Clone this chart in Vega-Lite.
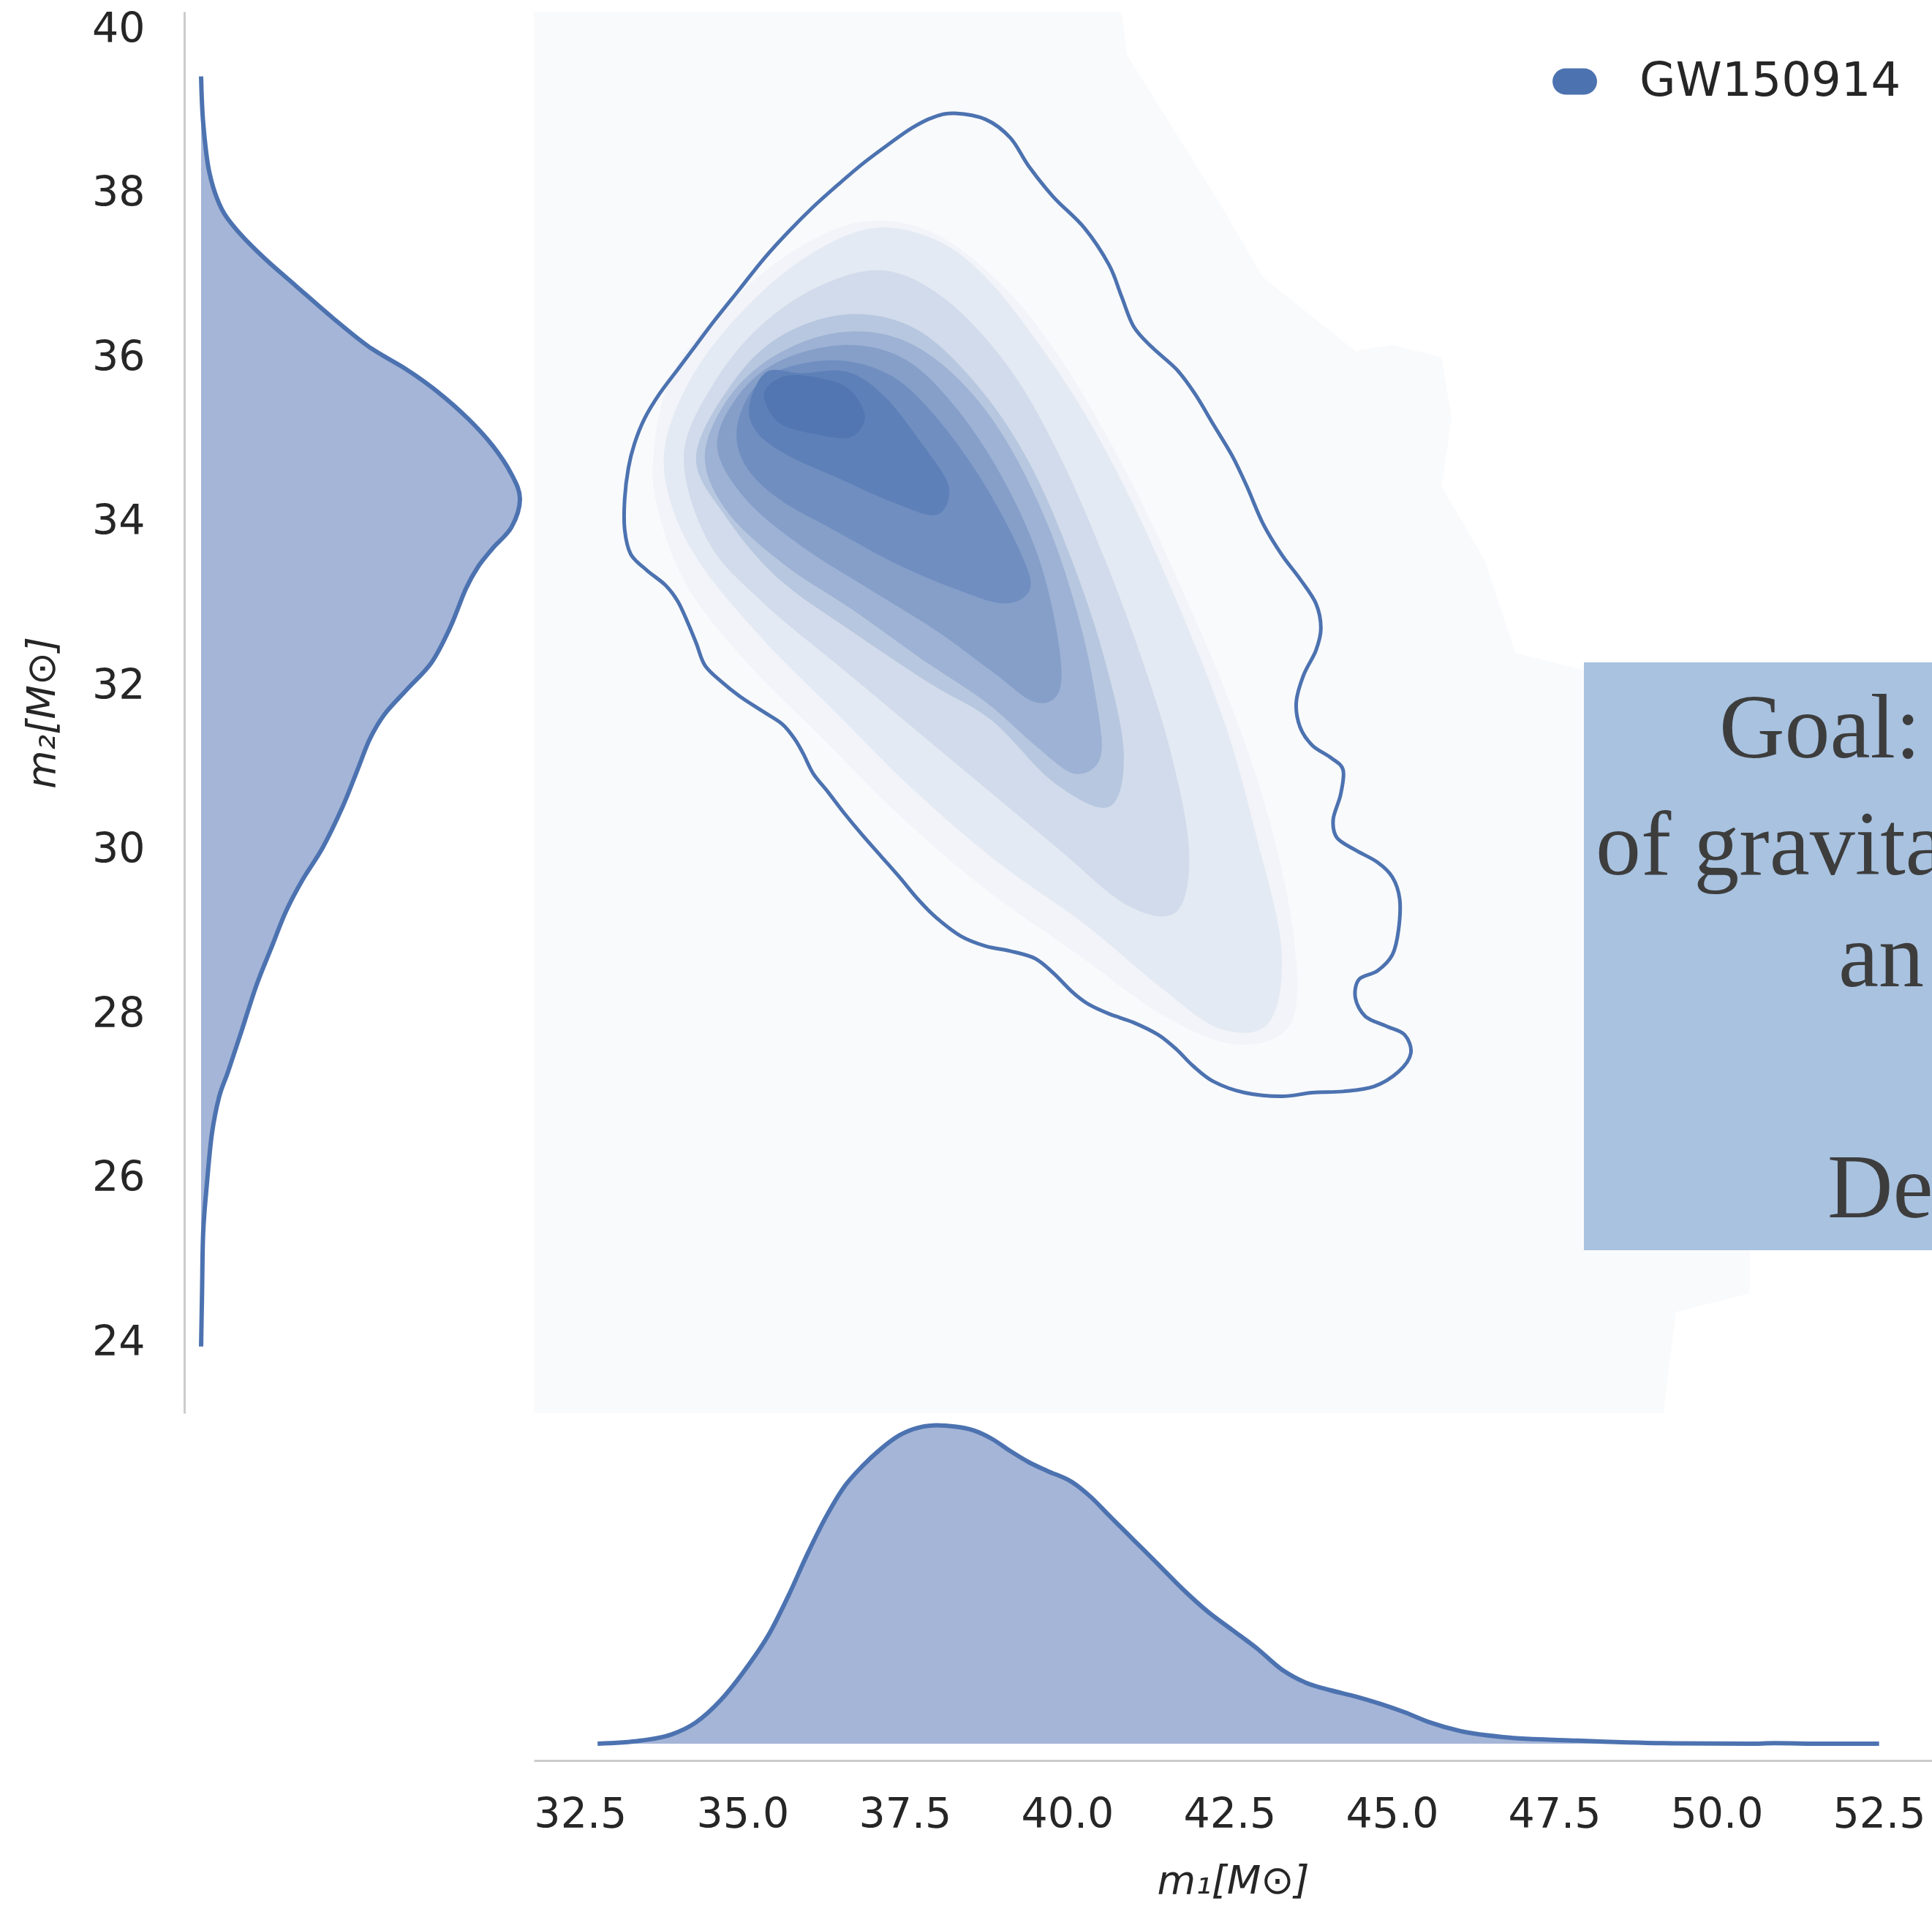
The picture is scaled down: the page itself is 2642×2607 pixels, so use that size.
{
  "$schema": "https://vega.github.io/schema/vega-lite/v6.json",
  "width": 2642,
  "height": 2607,
  "autosize": {"type": "none"},
  "padding": 0,
  "background": "white",
  "config": {"view": {"stroke": null}, "font": "DejaVu Sans"},
  "datasets": {
    "left": [
      {"m2": 39.43, "density": 0}, {"m2": 38.86, "density": 0.0009}, {"m2": 38.259, "density": 0.0035}, {"m2": 37.809, "density": 0.0088},
      {"m2": 37.509, "density": 0.0166}, {"m2": 37.209, "density": 0.027}, {"m2": 36.878, "density": 0.0401}, {"m2": 36.488, "density": 0.0557},
      {"m2": 36.128, "density": 0.0714}, {"m2": 35.858, "density": 0.087}, {"m2": 35.587, "density": 0.1001}, {"m2": 35.257, "density": 0.1131},
      {"m2": 34.927, "density": 0.1235}, {"m2": 34.582, "density": 0.1314}, {"m2": 34.281, "density": 0.135}, {"m2": 33.936, "density": 0.1314},
      {"m2": 33.681, "density": 0.1235}, {"m2": 33.456, "density": 0.1173}, {"m2": 33.186, "density": 0.1121}, {"m2": 32.705, "density": 0.1053},
      {"m2": 32.285, "density": 0.0975}, {"m2": 31.955, "density": 0.087}, {"m2": 31.655, "density": 0.0776}, {"m2": 31.354, "density": 0.0714},
      {"m2": 30.979, "density": 0.0662}, {"m2": 30.529, "density": 0.0599}, {"m2": 30.033, "density": 0.0515}, {"m2": 29.628, "density": 0.0427},
      {"m2": 29.253, "density": 0.0359}, {"m2": 28.802, "density": 0.0296}, {"m2": 28.352, "density": 0.0234}, {"m2": 27.751, "density": 0.0166},
      {"m2": 27.301, "density": 0.0114}, {"m2": 27.001, "density": 0.0077}, {"m2": 26.551, "density": 0.0046}, {"m2": 25.95, "density": 0.0025},
      {"m2": 25.35, "density": 0.0009}, {"m2": 24.6, "density": 0.0004}, {"m2": 23.953, "density": 0}
    ],
    "bottom": [
      {"m1": 32.769, "density": 0}, {"m1": 33.433, "density": 0.0013}, {"m1": 33.907, "density": 0.0039}, {"m1": 34.287, "density": 0.0091},
      {"m1": 34.666, "density": 0.0185}, {"m1": 35.045, "density": 0.0315}, {"m1": 35.425, "density": 0.0472}, {"m1": 35.71, "density": 0.0628},
      {"m1": 35.994, "density": 0.08}, {"m1": 36.279, "density": 0.0957}, {"m1": 36.564, "density": 0.1087}, {"m1": 36.848, "density": 0.1176},
      {"m1": 37.133, "density": 0.1249}, {"m1": 37.417, "density": 0.1306}, {"m1": 37.702, "density": 0.1338}, {"m1": 37.987, "density": 0.1348},
      {"m1": 38.271, "density": 0.1343}, {"m1": 38.556, "density": 0.1327}, {"m1": 38.84, "density": 0.1291}, {"m1": 39.125, "density": 0.1239},
      {"m1": 39.409, "density": 0.1192}, {"m1": 39.694, "density": 0.1155}, {"m1": 40.073, "density": 0.1108}, {"m1": 40.358, "density": 0.1046},
      {"m1": 40.643, "density": 0.0967}, {"m1": 41.022, "density": 0.0863}, {"m1": 41.402, "density": 0.0759}, {"m1": 41.781, "density": 0.0654},
      {"m1": 42.161, "density": 0.056}, {"m1": 42.54, "density": 0.0482}, {"m1": 42.92, "density": 0.0404}, {"m1": 43.299, "density": 0.0315},
      {"m1": 43.678, "density": 0.0258}, {"m1": 44.058, "density": 0.0226}, {"m1": 44.437, "density": 0.02}, {"m1": 44.817, "density": 0.0169},
      {"m1": 45.196, "density": 0.0133}, {"m1": 45.576, "density": 0.0091}, {"m1": 46.05, "density": 0.0054}, {"m1": 46.714, "density": 0.0028},
      {"m1": 47.852, "density": 0.0013}, {"m1": 49.18, "density": 0.0002}, {"m1": 50.509, "density": 0}, {"m1": 50.888, "density": 0.0002},
      {"m1": 51.647, "density": 0}, {"m1": 52.501, "density": 0}
    ],
    "contour": [
      {"i": 1, "m1": 38.271, "m2": 38.98}, {"i": 2, "m1": 38.745, "m2": 38.905}, {"i": 3, "m1": 39.125, "m2": 38.68}, {"i": 4, "m1": 39.409, "m2": 38.334},
      {"i": 5, "m1": 39.789, "m2": 37.959}, {"i": 6, "m1": 40.263, "m2": 37.584}, {"i": 7, "m1": 40.643, "m2": 37.134}, {"i": 8, "m1": 40.832, "m2": 36.758},
      {"i": 9, "m1": 41.022, "m2": 36.383}, {"i": 10, "m1": 41.307, "m2": 36.128}, {"i": 11, "m1": 41.686, "m2": 35.858}, {"i": 12, "m1": 41.971, "m2": 35.557},
      {"i": 13, "m1": 42.255, "m2": 35.182}, {"i": 14, "m1": 42.54, "m2": 34.807}, {"i": 15, "m1": 42.768, "m2": 34.431}, {"i": 16, "m1": 43.014, "m2": 33.981},
      {"i": 17, "m1": 43.299, "m2": 33.606}, {"i": 18, "m1": 43.584, "m2": 33.306}, {"i": 19, "m1": 43.83, "m2": 33.006}, {"i": 20, "m1": 43.906, "m2": 32.705},
      {"i": 21, "m1": 43.83, "m2": 32.435}, {"i": 22, "m1": 43.64, "m2": 32.135}, {"i": 23, "m1": 43.527, "m2": 31.804}, {"i": 24, "m1": 43.584, "m2": 31.504},
      {"i": 25, "m1": 43.773, "m2": 31.279}, {"i": 26, "m1": 44.058, "m2": 31.129}, {"i": 27, "m1": 44.248, "m2": 30.979}, {"i": 28, "m1": 44.21, "m2": 30.679},
      {"i": 29, "m1": 44.096, "m2": 30.378}, {"i": 30, "m1": 44.153, "m2": 30.153}, {"i": 31, "m1": 44.437, "m2": 30.003}, {"i": 32, "m1": 44.779, "m2": 29.853},
      {"i": 33, "m1": 45.007, "m2": 29.673}, {"i": 34, "m1": 45.12, "m2": 29.403}, {"i": 35, "m1": 45.101, "m2": 29.027}, {"i": 36, "m1": 45.007, "m2": 28.727},
      {"i": 37, "m1": 44.779, "m2": 28.532}, {"i": 38, "m1": 44.494, "m2": 28.427}, {"i": 39, "m1": 44.437, "m2": 28.202}, {"i": 40, "m1": 44.589, "m2": 27.977},
      {"i": 41, "m1": 44.912, "m2": 27.857}, {"i": 42, "m1": 45.196, "m2": 27.751}, {"i": 43, "m1": 45.291, "m2": 27.526}, {"i": 44, "m1": 45.101, "m2": 27.301},
      {"i": 45, "m1": 44.722, "m2": 27.121}, {"i": 46, "m1": 44.248, "m2": 27.061}, {"i": 47, "m1": 43.773, "m2": 27.046}, {"i": 48, "m1": 43.299, "m2": 27.001},
      {"i": 49, "m1": 42.73, "m2": 27.046}, {"i": 50, "m1": 42.255, "m2": 27.181}, {"i": 51, "m1": 41.933, "m2": 27.376}, {"i": 52, "m1": 41.686, "m2": 27.571},
      {"i": 53, "m1": 41.402, "m2": 27.751}, {"i": 54, "m1": 41.022, "m2": 27.901}, {"i": 55, "m1": 40.643, "m2": 28.007}, {"i": 56, "m1": 40.32, "m2": 28.127},
      {"i": 57, "m1": 40.073, "m2": 28.277}, {"i": 58, "m1": 39.789, "m2": 28.502}, {"i": 59, "m1": 39.504, "m2": 28.682}, {"i": 60, "m1": 39.125, "m2": 28.772},
      {"i": 61, "m1": 38.745, "m2": 28.832}, {"i": 62, "m1": 38.366, "m2": 28.952}, {"i": 63, "m1": 37.987, "m2": 29.177}, {"i": 64, "m1": 37.702, "m2": 29.403},
      {"i": 65, "m1": 37.417, "m2": 29.673}, {"i": 66, "m1": 37.133, "m2": 29.928}, {"i": 67, "m1": 36.848, "m2": 30.183}, {"i": 68, "m1": 36.564, "m2": 30.454},
      {"i": 69, "m1": 36.317, "m2": 30.709}, {"i": 70, "m1": 36.089, "m2": 30.934}, {"i": 71, "m1": 35.937, "m2": 31.174}, {"i": 72, "m1": 35.805, "m2": 31.354},
      {"i": 73, "m1": 35.615, "m2": 31.535}, {"i": 74, "m1": 35.33, "m2": 31.684}, {"i": 75, "m1": 34.951, "m2": 31.88}, {"i": 76, "m1": 34.666, "m2": 32.06},
      {"i": 77, "m1": 34.42, "m2": 32.255}, {"i": 78, "m1": 34.287, "m2": 32.525}, {"i": 79, "m1": 34.154, "m2": 32.78}, {"i": 80, "m1": 34.002, "m2": 33.035},
      {"i": 81, "m1": 33.812, "m2": 33.231}, {"i": 82, "m1": 33.528, "m2": 33.411}, {"i": 83, "m1": 33.281, "m2": 33.606}, {"i": 84, "m1": 33.186, "m2": 33.906},
      {"i": 85, "m1": 33.186, "m2": 34.281}, {"i": 86, "m1": 33.243, "m2": 34.657}, {"i": 87, "m1": 33.338, "m2": 34.957}, {"i": 88, "m1": 33.49, "m2": 35.257},
      {"i": 89, "m1": 33.718, "m2": 35.557}, {"i": 90, "m1": 34.002, "m2": 35.858}, {"i": 91, "m1": 34.287, "m2": 36.158}, {"i": 92, "m1": 34.572, "m2": 36.458},
      {"i": 93, "m1": 34.951, "m2": 36.833}, {"i": 94, "m1": 35.33, "m2": 37.209}, {"i": 95, "m1": 35.71, "m2": 37.539}, {"i": 96, "m1": 36.089, "m2": 37.839},
      {"i": 97, "m1": 36.469, "m2": 38.109}, {"i": 98, "m1": 36.848, "m2": 38.364}, {"i": 99, "m1": 37.228, "m2": 38.59}, {"i": 100, "m1": 37.607, "m2": 38.8},
      {"i": 101, "m1": 37.949, "m2": 38.935}
    ],
    "bg": [
      {"i": 0, "m1": 31.787, "m2": 40.218}, {"i": 1, "m1": 40.832, "m2": 40.218}, {"i": 2, "m1": 40.927, "m2": 39.685}, {"i": 3, "m1": 42.35, "m2": 37.884},
      {"i": 4, "m1": 43.014, "m2": 36.983}, {"i": 5, "m1": 44.437, "m2": 36.083}, {"i": 6, "m1": 45.007, "m2": 36.158}, {"i": 7, "m1": 45.765, "m2": 36.008},
      {"i": 8, "m1": 45.917, "m2": 35.257}, {"i": 9, "m1": 45.765, "m2": 34.431}, {"i": 10, "m1": 46.43, "m2": 33.531}, {"i": 11, "m1": 46.904, "m2": 32.405},
      {"i": 12, "m1": 48.042, "m2": 32.18}, {"i": 13, "m1": 50.509, "m2": 25.125}, {"i": 14, "m1": 50.509, "m2": 24.599}, {"i": 15, "m1": 49.371, "m2": 24.374},
      {"i": 16, "m1": 49.18, "m2": 23.14}, {"i": 17, "m1": 31.787, "m2": 23.14}
    ],
    "shade": [
      {"level": 1, "i": 0, "m1": 33.623, "m2": 34.732}, {"level": 1, "i": 1, "m1": 33.907, "m2": 35.783}, {"level": 1, "i": 2, "m1": 34.761, "m2": 36.638},
      {"level": 1, "i": 3, "m1": 35.805, "m2": 37.314}, {"level": 1, "i": 4, "m1": 36.848, "m2": 37.659}, {"level": 1, "i": 5, "m1": 37.892, "m2": 37.539},
      {"level": 1, "i": 6, "m1": 38.935, "m2": 36.938}, {"level": 1, "i": 7, "m1": 39.884, "m2": 36.008}, {"level": 1, "i": 8, "m1": 40.927, "m2": 34.582},
      {"level": 1, "i": 9, "m1": 41.781, "m2": 33.156}, {"level": 1, "i": 10, "m1": 42.54, "m2": 31.73}, {"level": 1, "i": 11, "m1": 43.109, "m2": 30.379},
      {"level": 1, "i": 12, "m1": 43.489, "m2": 28.953}, {"level": 1, "i": 13, "m1": 43.451, "m2": 27.902}, {"level": 1, "i": 14, "m1": 42.635, "m2": 27.632},
      {"level": 1, "i": 15, "m1": 41.496, "m2": 27.977}, {"level": 1, "i": 16, "m1": 40.168, "m2": 28.727}, {"level": 1, "i": 17, "m1": 38.745, "m2": 29.523},
      {"level": 1, "i": 18, "m1": 37.417, "m2": 30.424}, {"level": 1, "i": 19, "m1": 36.241, "m2": 31.354}, {"level": 1, "i": 20, "m1": 35.103, "m2": 32.255},
      {"level": 1, "i": 21, "m1": 34.192, "m2": 33.156}, {"level": 1, "i": 22, "m1": 33.755, "m2": 33.981},
      {"level": 2, "i": 0, "m1": 33.812, "m2": 34.957}, {"level": 2, "i": 1, "m1": 34.287, "m2": 35.858}, {"level": 2, "i": 2, "m1": 35.141, "m2": 36.683},
      {"level": 2, "i": 3, "m1": 36.089, "m2": 37.284}, {"level": 2, "i": 4, "m1": 37.038, "m2": 37.584}, {"level": 2, "i": 5, "m1": 37.986, "m2": 37.434},
      {"level": 2, "i": 6, "m1": 38.745, "m2": 36.984}, {"level": 2, "i": 7, "m1": 39.504, "m2": 36.233}, {"level": 2, "i": 8, "m1": 40.263, "m2": 35.332},
      {"level": 2, "i": 9, "m1": 41.022, "m2": 34.206}, {"level": 2, "i": 10, "m1": 41.781, "m2": 32.855}, {"level": 2, "i": 11, "m1": 42.445, "m2": 31.505},
      {"level": 2, "i": 12, "m1": 42.919, "m2": 30.154}, {"level": 2, "i": 13, "m1": 43.299, "m2": 28.803}, {"level": 2, "i": 14, "m1": 43.109, "m2": 27.902},
      {"level": 2, "i": 15, "m1": 42.35, "m2": 27.827}, {"level": 2, "i": 16, "m1": 41.402, "m2": 28.352}, {"level": 2, "i": 17, "m1": 40.263, "m2": 29.103},
      {"level": 2, "i": 18, "m1": 38.935, "m2": 29.853}, {"level": 2, "i": 19, "m1": 37.607, "m2": 30.754}, {"level": 2, "i": 20, "m1": 36.469, "m2": 31.655},
      {"level": 2, "i": 21, "m1": 35.33, "m2": 32.555}, {"level": 2, "i": 22, "m1": 34.382, "m2": 33.456}, {"level": 2, "i": 23, "m1": 33.907, "m2": 34.206},
      {"level": 3, "i": 0, "m1": 34.097, "m2": 34.807}, {"level": 3, "i": 1, "m1": 34.571, "m2": 35.708}, {"level": 3, "i": 2, "m1": 35.33, "m2": 36.428},
      {"level": 3, "i": 3, "m1": 36.279, "m2": 36.908}, {"level": 3, "i": 4, "m1": 37.228, "m2": 37.059}, {"level": 3, "i": 5, "m1": 38.176, "m2": 36.683},
      {"level": 3, "i": 6, "m1": 39.125, "m2": 35.858}, {"level": 3, "i": 7, "m1": 39.884, "m2": 34.807}, {"level": 3, "i": 8, "m1": 40.548, "m2": 33.606},
      {"level": 3, "i": 9, "m1": 41.117, "m2": 32.405}, {"level": 3, "i": 10, "m1": 41.591, "m2": 31.204}, {"level": 3, "i": 11, "m1": 41.876, "m2": 30.003},
      {"level": 3, "i": 12, "m1": 41.686, "m2": 29.253}, {"level": 3, "i": 13, "m1": 40.927, "m2": 29.328}, {"level": 3, "i": 14, "m1": 39.884, "m2": 30.003},
      {"level": 3, "i": 15, "m1": 38.745, "m2": 30.754}, {"level": 3, "i": 16, "m1": 37.607, "m2": 31.505}, {"level": 3, "i": 17, "m1": 36.469, "m2": 32.255},
      {"level": 3, "i": 18, "m1": 35.33, "m2": 33.006}, {"level": 3, "i": 19, "m1": 34.476, "m2": 33.756},
      {"level": 4, "i": 0, "m1": 34.287, "m2": 34.807}, {"level": 4, "i": 1, "m1": 34.856, "m2": 35.708}, {"level": 4, "i": 2, "m1": 35.615, "m2": 36.278},
      {"level": 4, "i": 3, "m1": 36.658, "m2": 36.533}, {"level": 4, "i": 4, "m1": 37.702, "m2": 36.338}, {"level": 4, "i": 5, "m1": 38.65, "m2": 35.633},
      {"level": 4, "i": 6, "m1": 39.409, "m2": 34.732}, {"level": 4, "i": 7, "m1": 40.036, "m2": 33.606}, {"level": 4, "i": 8, "m1": 40.548, "m2": 32.405},
      {"level": 4, "i": 9, "m1": 40.87, "m2": 31.204}, {"level": 4, "i": 10, "m1": 40.643, "m2": 30.529}, {"level": 4, "i": 11, "m1": 39.789, "m2": 30.829},
      {"level": 4, "i": 12, "m1": 38.84, "m2": 31.58}, {"level": 4, "i": 13, "m1": 37.892, "m2": 32.03}, {"level": 4, "i": 14, "m1": 36.753, "m2": 32.63},
      {"level": 4, "i": 15, "m1": 35.558, "m2": 33.306}, {"level": 4, "i": 16, "m1": 34.723, "m2": 34.086},
      {"level": 5, "i": 0, "m1": 34.42, "m2": 34.807}, {"level": 5, "i": 1, "m1": 34.799, "m2": 35.527}, {"level": 5, "i": 2, "m1": 35.52, "m2": 36.038},
      {"level": 5, "i": 3, "m1": 36.469, "m2": 36.308}, {"level": 5, "i": 4, "m1": 37.417, "m2": 36.233}, {"level": 5, "i": 5, "m1": 38.271, "m2": 35.783},
      {"level": 5, "i": 6, "m1": 39.03, "m2": 35.032}, {"level": 5, "i": 7, "m1": 39.694, "m2": 33.981}, {"level": 5, "i": 8, "m1": 40.168, "m2": 32.855},
      {"level": 5, "i": 9, "m1": 40.453, "m2": 31.805}, {"level": 5, "i": 10, "m1": 40.51, "m2": 31.129}, {"level": 5, "i": 11, "m1": 40.111, "m2": 30.934},
      {"level": 5, "i": 12, "m1": 39.504, "m2": 31.279}, {"level": 5, "i": 13, "m1": 38.745, "m2": 31.805}, {"level": 5, "i": 14, "m1": 37.759, "m2": 32.33},
      {"level": 5, "i": 15, "m1": 36.696, "m2": 32.93}, {"level": 5, "i": 16, "m1": 35.634, "m2": 33.486}, {"level": 5, "i": 17, "m1": 34.761, "m2": 34.131},
      {"level": 6, "i": 0, "m1": 34.609, "m2": 34.927}, {"level": 6, "i": 1, "m1": 34.951, "m2": 35.557}, {"level": 6, "i": 2, "m1": 35.615, "m2": 35.978},
      {"level": 6, "i": 3, "m1": 36.62, "m2": 36.158}, {"level": 6, "i": 4, "m1": 37.512, "m2": 35.978}, {"level": 6, "i": 5, "m1": 38.271, "m2": 35.407},
      {"level": 6, "i": 6, "m1": 38.973, "m2": 34.582}, {"level": 6, "i": 7, "m1": 39.542, "m2": 33.606}, {"level": 6, "i": 8, "m1": 39.846, "m2": 32.63},
      {"level": 6, "i": 9, "m1": 39.884, "m2": 31.955}, {"level": 6, "i": 10, "m1": 39.504, "m2": 31.805}, {"level": 6, "i": 11, "m1": 38.84, "m2": 32.18},
      {"level": 6, "i": 12, "m1": 37.986, "m2": 32.675}, {"level": 6, "i": 13, "m1": 36.943, "m2": 33.186}, {"level": 6, "i": 14, "m1": 35.899, "m2": 33.711},
      {"level": 6, "i": 15, "m1": 35.046, "m2": 34.282},
      {"level": 7, "i": 0, "m1": 34.913, "m2": 35.137}, {"level": 7, "i": 1, "m1": 35.179, "m2": 35.633}, {"level": 7, "i": 2, "m1": 35.71, "m2": 35.888},
      {"level": 7, "i": 3, "m1": 36.564, "m2": 35.963}, {"level": 7, "i": 4, "m1": 37.379, "m2": 35.738}, {"level": 7, "i": 5, "m1": 38.081, "m2": 35.182},
      {"level": 7, "i": 6, "m1": 38.745, "m2": 34.432}, {"level": 7, "i": 7, "m1": 39.277, "m2": 33.636}, {"level": 7, "i": 8, "m1": 39.428, "m2": 33.186},
      {"level": 7, "i": 9, "m1": 39.03, "m2": 33.006}, {"level": 7, "i": 10, "m1": 38.271, "m2": 33.186}, {"level": 7, "i": 11, "m1": 37.379, "m2": 33.486},
      {"level": 7, "i": 12, "m1": 36.469, "m2": 33.876}, {"level": 7, "i": 13, "m1": 35.558, "m2": 34.282}, {"level": 7, "i": 14, "m1": 35.046, "m2": 34.687},
      {"level": 8, "i": 0, "m1": 35.103, "m2": 35.407}, {"level": 8, "i": 1, "m1": 35.368, "m2": 35.828}, {"level": 8, "i": 2, "m1": 35.899, "m2": 35.813},
      {"level": 8, "i": 3, "m1": 36.62, "m2": 35.828}, {"level": 8, "i": 4, "m1": 37.19, "m2": 35.527}, {"level": 8, "i": 5, "m1": 37.759, "m2": 34.957},
      {"level": 8, "i": 6, "m1": 38.176, "m2": 34.432}, {"level": 8, "i": 7, "m1": 37.986, "m2": 34.086}, {"level": 8, "i": 8, "m1": 37.322, "m2": 34.237},
      {"level": 8, "i": 9, "m1": 36.469, "m2": 34.537}, {"level": 8, "i": 10, "m1": 35.71, "m2": 34.807}, {"level": 8, "i": 11, "m1": 35.235, "m2": 35.077},
      {"level": 9, "i": 0, "m1": 35.33, "m2": 35.557}, {"level": 9, "i": 1, "m1": 35.615, "m2": 35.768}, {"level": 9, "i": 2, "m1": 36.089, "m2": 35.768},
      {"level": 9, "i": 3, "m1": 36.62, "m2": 35.633}, {"level": 9, "i": 4, "m1": 36.886, "m2": 35.287}, {"level": 9, "i": 5, "m1": 36.658, "m2": 35.032},
      {"level": 9, "i": 6, "m1": 36.089, "m2": 35.077}, {"level": 9, "i": 7, "m1": 35.558, "m2": 35.212}
    ]
  },
  "layer": [
    {
      "layer": [
        {
          "data": {"name": "bg"},
          "mark": {"type": "line", "interpolate": "linear", "fill": "#4c72b0", "fillOpacity": 0.035, "strokeWidth": 0},
          "encoding": {
            "x": {"field": "m1", "type": "quantitative", "scale": {"domain": [31.787, 53.316], "range": [730, 2642]}, "axis": null},
            "y": {"field": "m2", "type": "quantitative", "scale": {"domain": [23.14, 40.218], "range": [1933, 16]}, "axis": null},
            "order": {"field": "i"}
          }
        },
        {
          "data": {"name": "shade"},
          "mark": {"type": "line", "interpolate": "cardinal-closed", "strokeWidth": 0, "fillOpacity": 1},
          "encoding": {
            "x": {"field": "m1", "type": "quantitative", "scale": {"domain": [31.787, 53.316], "range": [730, 2642]}, "axis": null},
            "y": {"field": "m2", "type": "quantitative", "scale": {"domain": [23.14, 40.218], "range": [1933, 16]}, "axis": null},
            "detail": {"field": "level", "type": "ordinal"},
            "order": {"field": "i"},
            "fill": {
              "field": "level",
              "type": "ordinal",
              "scale": {"domain": [1, 2, 3, 4, 5, 6, 7, 8, 9], "range": ["#f2f4f9", "#e4eaf3", "#d1dbeb", "#b7c7df", "#9db2d4", "#859fc9", "#708ec0", "#5e80b8", "#5176b2"]},
              "legend": null
            }
          }
        },
        {
          "data": {"name": "contour"},
          "mark": {"type": "line", "interpolate": "cardinal-closed", "strokeWidth": 5},
          "encoding": {
            "x": {"field": "m1", "type": "quantitative", "scale": {"domain": [31.787, 53.316], "range": [730, 2642]}, "axis": null},
            "y": {"field": "m2", "type": "quantitative", "scale": {"domain": [23.14, 40.218], "range": [1933, 16]}, "axis": null},
            "order": {"field": "i"},
            "color": {
              "datum": "GW150914",
              "type": "nominal",
              "scale": {"domain": ["GW150914"], "range": ["#4c72b0"]},
              "legend": {
                "orient": "none",
                "legendX": 2115,
                "legendY": 73,
                "title": null,
                "padding": 0,
                "symbolType": "M-0.33,-0.47L0.33,-0.47A0.47,0.47,0,0,1,0.33,0.47L-0.33,0.47A0.47,0.47,0,0,1,-0.33,-0.47Z",
                "symbolSize": 5800,
                "symbolStrokeWidth": 0,
                "symbolFillColor": "#4c72b0",
                "labelFont": "DejaVu Sans",
                "labelFontSize": 64,
                "labelColor": "#262626",
                "labelOffset": 50,
                "labelLimit": 0,
                "encode": {"symbols": {"update": {"fill": {"value": "#4c72b0"}, "stroke": {"value": "transparent"}, "opacity": {"value": 1}}}}
              }
            }
          }
        },
        {
          "data": {"values": [{}]},
          "mark": {"type": "rect", "fill": "#a8c2e0"},
          "encoding": {
            "x": {"datum": 47.956, "type": "quantitative", "scale": {"domain": [31.787, 53.316], "range": [730, 2642]}, "axis": null},
            "x2": {"datum": 54},
            "y": {"datum": 32.29, "type": "quantitative", "scale": {"domain": [23.14, 40.218], "range": [1933, 16]}, "axis": null},
            "y2": {"datum": 25.127}
          }
        },
        {
          "data": {"values": [{}]},
          "mark": {"type": "text", "text": "Goal:", "font": "Liberation Serif", "fontSize": 124, "fill": "#3d3d3d", "align": "left", "baseline": "alphabetic"},
          "encoding": {
            "x": {"datum": 50.039, "type": "quantitative", "scale": {"domain": [31.787, 53.316], "range": [730, 2642]}, "axis": null},
            "y": {"datum": 31.131, "type": "quantitative", "scale": {"domain": [23.14, 40.218], "range": [1933, 16]}, "axis": null}
          }
        },
        {
          "data": {"values": [{}]},
          "mark": {"type": "text", "text": "of gravitational", "font": "Liberation Serif", "fontSize": 124, "fill": "#3d3d3d", "align": "left", "baseline": "alphabetic"},
          "encoding": {
            "x": {"datum": 48.137, "type": "quantitative", "scale": {"domain": [31.787, 53.316], "range": [730, 2642]}, "axis": null},
            "y": {"datum": 29.706, "type": "quantitative", "scale": {"domain": [23.14, 40.218], "range": [1933, 16]}, "axis": null}
          }
        },
        {
          "data": {"values": [{}]},
          "mark": {"type": "text", "text": "an", "font": "Liberation Serif", "fontSize": 124, "fill": "#3d3d3d", "align": "left", "baseline": "alphabetic"},
          "encoding": {
            "x": {"datum": 51.875, "type": "quantitative", "scale": {"domain": [31.787, 53.316], "range": [730, 2642]}, "axis": null},
            "y": {"datum": 28.343, "type": "quantitative", "scale": {"domain": [23.14, 40.218], "range": [1933, 16]}, "axis": null}
          }
        },
        {
          "data": {"values": [{}]},
          "mark": {"type": "text", "text": "De", "font": "Liberation Serif", "fontSize": 124, "fill": "#3d3d3d", "align": "left", "baseline": "alphabetic"},
          "encoding": {
            "x": {"datum": 51.706, "type": "quantitative", "scale": {"domain": [31.787, 53.316], "range": [730, 2642]}, "axis": null},
            "y": {"datum": 25.528, "type": "quantitative", "scale": {"domain": [23.14, 40.218], "range": [1933, 16]}, "axis": null}
          }
        }
      ]
    },
    {
      "data": {"name": "left"},
      "layer": [
        {
          "mark": {"type": "area", "orient": "horizontal", "interpolate": "cardinal", "fill": "#a5b5d7"},
          "encoding": {
            "x": {"field": "density", "type": "quantitative", "stack": null, "scale": {"domain": [0, 0.15], "range": [275, 759.5]}, "axis": null},
            "x2": {"datum": 0},
            "y": {
              "field": "m2",
              "type": "quantitative",
              "scale": {"domain": [23.14, 40.218], "range": [1933, 16]},
              "axis": {
                "orient": "left",
                "offset": -252,
                "values": [24, 26, 28, 30, 32, 34, 36, 38, 40],
                "format": "d",
                "ticks": false,
                "grid": false,
                "labelPadding": 54,
                "labelFont": "DejaVu Sans",
                "labelFontSize": 57,
                "labelColor": "#262626",
                "labelOverlap": false,
                "labelFlush": false,
                "labelBound": false,
                "domainColor": "#cccccc",
                "domainWidth": 3,
                "title": "m₂[M⊙]",
                "titleFont": "DejaVu Sans",
                "titleFontStyle": "italic",
                "titleFontWeight": "normal",
                "titleFontSize": 54,
                "titleColor": "#262626",
                "titlePadding": 40
              }
            }
          }
        },
        {
          "mark": {"type": "line", "interpolate": "cardinal", "stroke": "#4c72b0", "strokeWidth": 6},
          "encoding": {
            "x": {"field": "density", "type": "quantitative", "scale": {"domain": [0, 0.15], "range": [275, 759.5]}, "axis": null},
            "y": {"field": "m2", "type": "quantitative", "scale": {"domain": [23.14, 40.218], "range": [1933, 16]}},
            "order": {"field": "m2"}
          }
        }
      ]
    },
    {
      "data": {"name": "bottom"},
      "layer": [
        {
          "mark": {"type": "area", "interpolate": "monotone", "fill": "#a5b5d7"},
          "encoding": {
            "x": {
              "field": "m1",
              "type": "quantitative",
              "scale": {"domain": [31.787, 53.316], "range": [730, 2642]},
              "axis": {
                "orient": "bottom",
                "offset": -199,
                "values": [32.5, 35, 37.5, 40, 42.5, 45, 47.5, 50, 52.5],
                "format": ".1f",
                "ticks": false,
                "grid": false,
                "labelPadding": 46,
                "labelFont": "DejaVu Sans",
                "labelFontSize": 57,
                "labelColor": "#262626",
                "labelOverlap": false,
                "labelFlush": false,
                "labelBound": false,
                "domainColor": "#cccccc",
                "domainWidth": 3,
                "title": "m₁[M⊙]",
                "titleFont": "DejaVu Sans",
                "titleFontStyle": "italic",
                "titleFontWeight": "normal",
                "titleFontSize": 54,
                "titleColor": "#262626",
                "titlePadding": 36
              }
            },
            "y": {"field": "density", "type": "quantitative", "scale": {"domain": [0, 0.15], "range": [2385, 1900.5]}, "axis": null}
          }
        },
        {
          "mark": {"type": "line", "interpolate": "monotone", "stroke": "#4c72b0", "strokeWidth": 6},
          "encoding": {
            "x": {"field": "m1", "type": "quantitative", "scale": {"domain": [31.787, 53.316], "range": [730, 2642]}},
            "y": {"field": "density", "type": "quantitative", "scale": {"domain": [0, 0.15], "range": [2385, 1900.5]}, "axis": null}
          }
        }
      ]
    }
  ],
  "resolve": {"scale": {"x": "independent", "y": "independent"}}
}
